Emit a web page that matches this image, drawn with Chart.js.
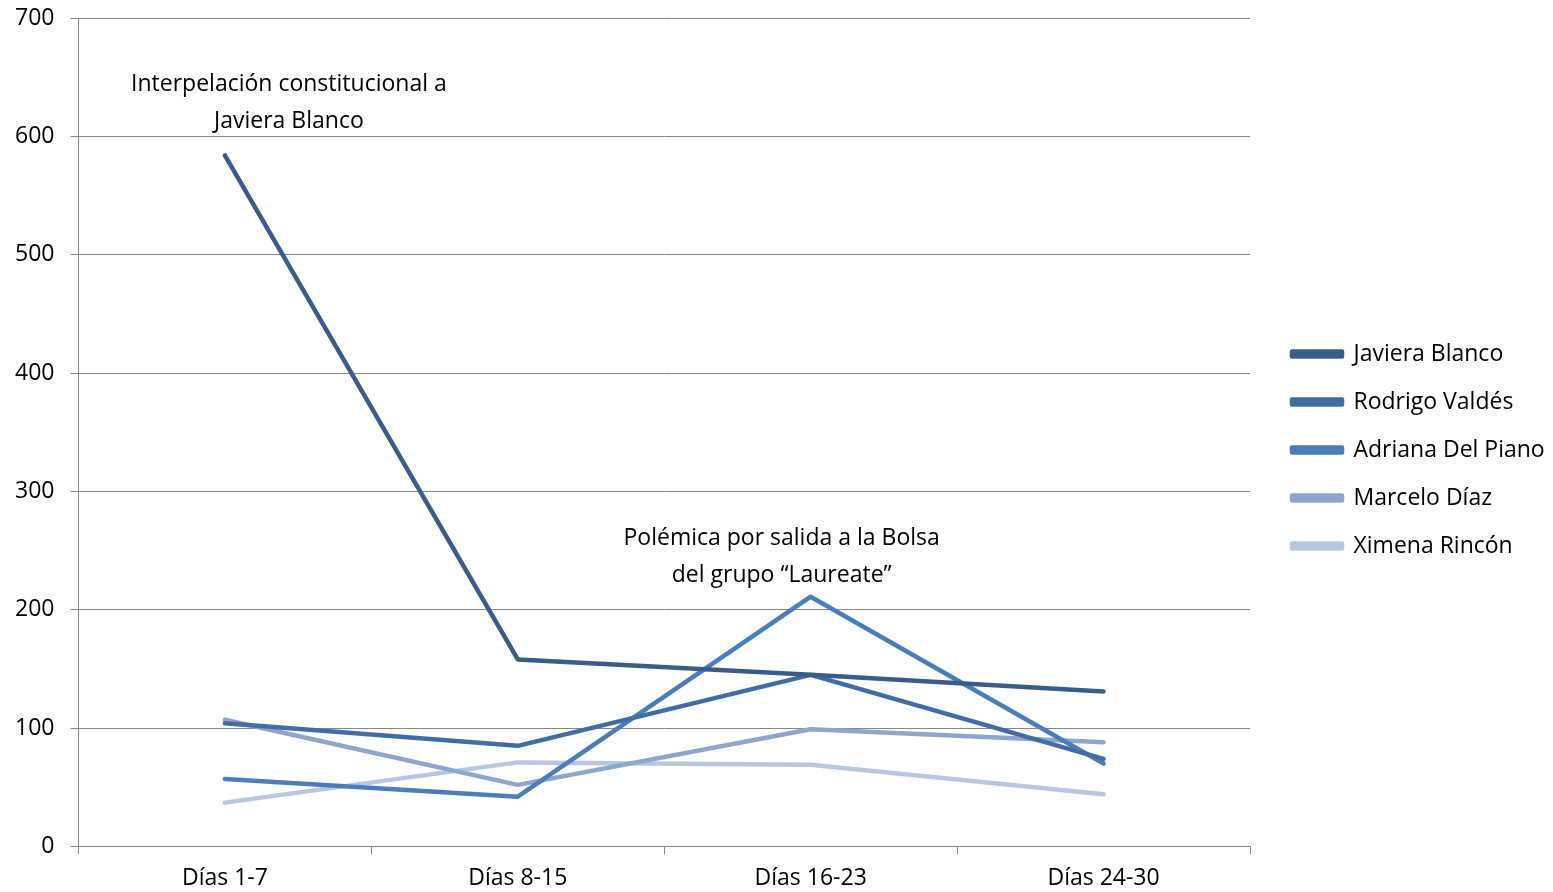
<!DOCTYPE html>
<html>
<head>
<meta charset="utf-8">
<script src="https://cdn.jsdelivr.net/npm/chart.js@4"></script>
<style>
  html, body { margin: 0; padding: 0; background: #fff; }
  #wrap { width: 1553px; height: 892px; }
</style>
</head>
<body>
<div id="wrap"><canvas id="chart"></canvas></div>
<script>
// categorias y series
const labels = ['Días 1-7', 'Días 8-15', 'Días 16-23', 'Días 24-30'];
const javieraBlanco = [584, 158, 145, 131];
const rodrigoValdes = [104, 85, 145, 74];
const adrianaDelPiano = [57, 42, 211, 70];
const marceloDiaz = [107, 52, 99, 88];
const ximenaRincon = [37, 71, 69, 44];
const yTicks = [0, 100, 200, 300, 400, 500, 600, 700];

const FONT = '"Open Sans", sans-serif';
const SIZE = 23;

function serie(label, data, color) {
    return {
        label: label,
        data: data,
        borderColor: color,
        backgroundColor: color,
        borderWidth: 4.5,
        pointRadius: 0,
        tension: 0,
        borderCapStyle: 'round',
        borderJoinStyle: 'round'
    };
}

// textos de las anotaciones
const anotaciones = {
    id: 'anotaciones',
    afterDatasetsDraw(chart) {
        const ctx = chart.ctx;
        const x = chart.scales.x, y = chart.scales.y;
        ctx.save();
        ctx.font = SIZE + 'px ' + FONT;
        ctx.fillStyle = '#000';
        ctx.textAlign = 'center';
        ctx.textBaseline = 'middle';
        let cx = x.getPixelForValue(0) + 64;
        ctx.fillText('Interpelación constitucional a', cx, y.getPixelForValue(644));
        ctx.fillText('Javiera Blanco', cx, y.getPixelForValue(613));
        cx = x.getPixelForValue(2) - 29;
        ctx.fillText('Polémica por salida a la Bolsa', cx, y.getPixelForValue(260));
        ctx.fillText('del grupo “Laureate”', cx, y.getPixelForValue(229));
        ctx.restore();
    }
};

// ancho fijo de la leyenda y pequeño desplazamiento
const ajusteLeyenda = {
    id: 'ajusteLeyenda',
    beforeInit(chart) {
        const fit = chart.legend.fit;
        chart.legend.fit = function() {
            fit.bind(chart.legend)();
            this.width = 303;
        };
    },
    afterLayout(chart) {
        chart.legend.left += 17;
        chart.legend.right += 17;
        chart.legend.top -= 1;
        chart.legend.bottom -= 1;
    }
};

new Chart(document.getElementById('chart'), {
    type: 'line',
    data: {
        labels: labels,
        datasets: [
            serie('Javiera Blanco', javieraBlanco, 'rgb(56, 93, 138)'),
            serie('Rodrigo Valdés', rodrigoValdes, 'rgb(66, 109, 164)'),
            serie('Adriana Del Piano', adrianaDelPiano, 'rgb(74, 126, 187)'),
            serie('Marcelo Díaz', marceloDiaz, 'rgb(142, 165, 205)'),
            serie('Ximena Rincón', ximenaRincon, 'rgb(185, 198, 224)')
        ]
    },
    options: {
        responsive: true,
        maintainAspectRatio: false,
        animation: false,
        layout: { padding: { left: -1, top: 0, right: 0, bottom: -10 } },
        scales: {
            y: {
                min: 0,
                max: 700,
                afterBuildTicks(axis) { axis.ticks = yTicks.map(v => ({ value: v })); },
                border: { color: '#868686', width: 1 },
                grid: { color: '#868686', lineWidth: 1, tickLength: 8 },
                ticks: { color: '#000', font: { family: FONT, size: SIZE, lineHeight: 0.18 }, padding: 16 }
            },
            x: {
                offset: true,
                border: { color: '#868686', width: 1 },
                grid: { offset: true, drawOnChartArea: false, drawTicks: true, tickLength: 8, color: '#868686' },
                ticks: { color: '#000', font: { family: FONT, size: SIZE }, padding: 10, maxRotation: 0 }
            }
        },
        plugins: {
            legend: {
                position: 'right',
                align: 'center',
                labels: {
                    color: '#000',
                    font: { family: FONT, size: SIZE },
                    boxWidth: 50,
                    boxHeight: 5,
                    padding: 25
                }
            },
            tooltip: { enabled: false }
        }
    },
    plugins: [anotaciones, ajusteLeyenda]
});
</script>
</body>
</html>
